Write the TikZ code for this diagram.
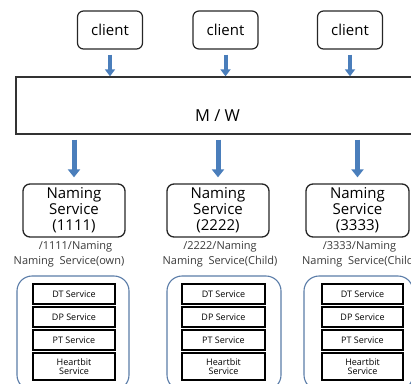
\documentclass[tikz,border=0pt]{standalone}
\usepackage{fontspec}
\setmainfont{Open Sans}
\usetikzlibrary{arrows.meta}
\definecolor{arrowblue}{HTML}{4A7EBB}
\definecolor{groupblue}{HTML}{5A7CA8}
\definecolor{labelgray}{HTML}{3A3A3A}

\begin{document}
\begin{tikzpicture}[x=1pt, y=-1pt,
    clientbox/.style={draw=black!85, line width=1.2pt, rounded corners=6pt, minimum width=65pt, minimum height=38pt, inner sep=0pt, font=\fontsize{15}{16}\selectfont},
    mwbox/.style={draw=black!80, line width=1.4pt, minimum width=414pt, minimum height=57pt, inner sep=0pt},
    namingbox/.style={draw=black!85, line width=1.3pt, rounded corners=7pt, minimum width=102pt, minimum height=53pt, inner sep=0pt, align=center, font=\fontsize{15}{16}\selectfont},
    pathlabel/.style={text=labelgray, inner sep=0pt, font=\fontsize{11}{12}\selectfont},
    groupbox/.style={draw=groupblue, line width=1.1pt, rounded corners=15pt},
    svcbox/.style={draw=black, line width=1.6pt, minimum height=20pt, inner sep=0pt, align=center, font=\fontsize{9}{9.5}\selectfont},
    flow/.style={draw=arrowblue, line width=4pt, -{Triangle[width=10pt,length=7pt]}},
    flowbig/.style={draw=arrowblue, line width=5pt, -{Triangle[width=12pt,length=8pt]}}]

    \useasboundingbox (0,0) rectangle (411,383);
    \clip (0,0) rectangle (411,383);

    % clients and middleware
    \node[clientbox] (C1) at (110,30) {client};
    \node[clientbox] (C2) at (225.5,30) {client};
    \node[clientbox] (C3) at (350,30) {client};
    \node[mwbox] (MW) at (223,105.5) {};
    \node[font=\fontsize{16.5}{18}\selectfont] (MWtext) at (217.5,116) {M / W};

    \draw[flow] ([yshift=-5pt]C1.south) -- (C1.south |- MW.north);
    \draw[flow] ([yshift=-5pt]C2.south) -- (C2.south |- MW.north);
    \draw[flow] ([yshift=-5pt]C3.south) -- (C3.south |- MW.north);

    % naming services
    \node[namingbox] (N1) at (74,210.5) {Naming\\Service\\(1111)};
    \node[namingbox] (N2) at (218,210.5) {Naming\\Service\\(2222)};
    \node[namingbox, minimum width=103pt] (N3) at (357.5,210.5) {Naming\\Service\\(3333)};

    \draw[flowbig] ([yshift=-5pt]MW.south -| N1.north) -- ([yshift=6pt]N1.north);
    \draw[flowbig] ([yshift=-5pt]MW.south -| N2.north) -- ([yshift=6pt]N2.north);
    \draw[flowbig] ([yshift=-5pt]MW.south -| N3.north) -- ([yshift=6pt]N3.north);

    \node[pathlabel] (P1) at (75.5,246.5) {/1111/Naming};
    \node[pathlabel] (Q1) at (69,261.5) {Naming\ \ Service(own)};
    \node[pathlabel] (P2) at (220,246.5) {/2222/Naming};
    \node[pathlabel] (Q2) at (220,261.5) {Naming\ \ Service(Child)};
    \node[pathlabel] (P3) at (359.5,246.5) {/3333/Naming};
    \node[pathlabel] (Q3) at (359.5,261.5) {Naming\ \ Service(Child)};

    % service groups
    \draw[groupbox] (17,276) rectangle (129,390);
    \draw[groupbox] (167,276) rectangle (281,390);
    \draw[groupbox] (304,276) rectangle (413,390);

    \node[svcbox, minimum width=82pt] (DT1) at (74,294) {DT Service};
    \node[svcbox, minimum width=82pt] (DP1) at (74,317) {DP Service};
    \node[svcbox, minimum width=82pt] (PT1) at (74,340) {PT Service};
    \node[svcbox, minimum width=82pt, minimum height=27pt] (HB1) at (74,366.5) {Heartbit\\Service};

    \node[svcbox, minimum width=83pt] (DT2) at (223.5,294) {DT Service};
    \node[svcbox, minimum width=83pt] (DP2) at (223.5,317) {DP Service};
    \node[svcbox, minimum width=83pt] (PT2) at (223.5,340) {PT Service};
    \node[svcbox, minimum width=83pt, minimum height=27pt] (HB2) at (223.5,366.5) {Heartbit\\Service};

    \node[svcbox, minimum width=81pt] (DT3) at (362.5,294) {DT Service};
    \node[svcbox, minimum width=81pt] (DP3) at (362.5,317) {DP Service};
    \node[svcbox, minimum width=81pt] (PT3) at (362.5,340) {PT Service};
    \node[svcbox, minimum width=81pt, minimum height=27pt] (HB3) at (362.5,366.5) {Heartbit\\Service};

\end{tikzpicture}
\end{document}
